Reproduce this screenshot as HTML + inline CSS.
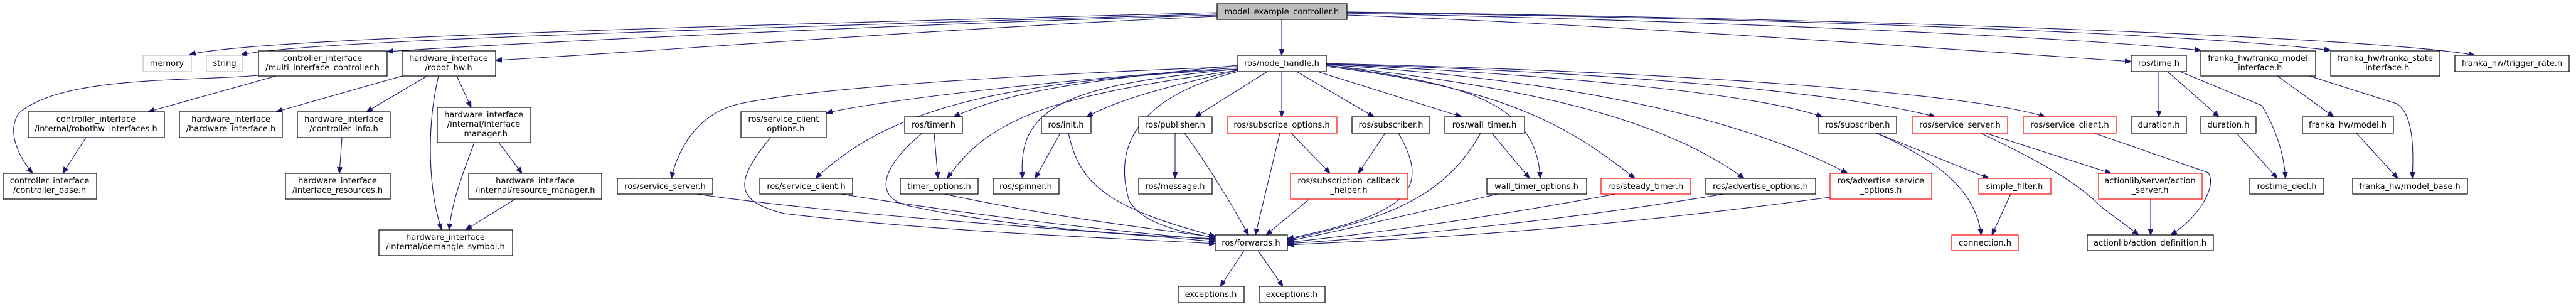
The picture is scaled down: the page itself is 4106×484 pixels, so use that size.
<!DOCTYPE html>
<html><head><meta charset="utf-8"><style>
html,body{margin:0;padding:0;background:#fff;}
svg{display:block;}
text{font-family:"DejaVu Sans","Liberation Sans",sans-serif;font-size:13px;fill:#000;text-anchor:middle;}
.n{fill:#fff;stroke:#000;stroke-width:1.2;}
.r{fill:#fff;stroke:#ff0000;stroke-width:1.2;}
.g{fill:#fff;stroke:#bfbfbf;stroke-width:1.2;}
.e{fill:none;stroke:#191970;stroke-width:1.1;}
</style></head><body>
<svg width="4106" height="484" viewBox="0 0 4106 484" xmlns="http://www.w3.org/2000/svg">
<defs><marker id="a" markerUnits="userSpaceOnUse" markerWidth="11" markerHeight="9" refX="10" refY="4" orient="auto"><path d="M0,0 L10,4 L0,8 z" fill="#191970" stroke="#191970"/></marker></defs>
<g class="e" marker-end="url(#a)">
<path d="M1940,20 C1200,40 400,60 302,87"/>
<path d="M1940,22 C1200,45 450,65 384,88"/>
<path d="M1940,24 C1400,40 800,70 617,82"/>
<path d="M1940,26 C1500,45 1000,85 790,96"/>
<path d="M2043,31 L2043,88"/>
<path d="M2147,24 C2600,40 3200,85 3397,98"/>
<path d="M2147,21 C2800,35 3300,60 3508,80"/>
<path d="M2147,20 C2900,30 3500,55 3715,80"/>
<path d="M2147,19 C3000,30 3800,60 3945,88"/>
<path d="M412,120 C300,130 100,120 30,180 C10,210 30,250 52,276"/>
<path d="M440,121 L236,178"/>
<path d="M641,121 L440,178"/>
<path d="M681,121 L584,178"/>
<path d="M728,121 L751,171"/>
<path d="M699,121 C680,200 682,300 704,366"/>
<path d="M756,227 C740,270 720,320 716,366"/>
<path d="M795,227 L832,276"/>
<path d="M821,317 L742,366"/>
<path d="M137,219 L100,276"/>
<path d="M545,219 L541,276"/>
<path d="M1973,106 C1600,120 1300,140 1180,165 C1110,180 1080,240 1070,284"/>
<path d="M1973,108 C1700,125 1400,160 1317,180"/>
<path d="M1973,110 C1600,130 1420,170 1300,284"/>
<path d="M1973,104 C1700,130 1600,150 1520,186"/>
<path d="M1973,112 C1700,150 1580,180 1510,284"/>
<path d="M1973,110 C1700,135 1620,170 1630,284"/>
<path d="M1973,112 C1850,140 1780,160 1732,186"/>
<path d="M2020,114 L1905,186"/>
<path d="M2043,114 L2043,186"/>
<path d="M1973,114 C1830,150 1770,220 1800,320 C1820,355 1880,370 1937,378"/>
<path d="M2067,114 L2190,186"/>
<path d="M2100,114 L2330,186"/>
<path d="M2114,104 C2300,130 2450,150 2455,284"/>
<path d="M2114,106 C2400,140 2500,200 2606,284"/>
<path d="M2114,104 C2450,140 2650,190 2780,284"/>
<path d="M2114,103 C2550,130 2800,200 2945,276"/>
<path d="M2114,102 C2500,120 2800,150 2905,186"/>
<path d="M2114,102 C2600,115 2950,150 3085,186"/>
<path d="M2114,101 C2700,115 3150,150 3260,186"/>
<path d="M1110,309 C1400,350 1800,370 1937,385"/>
<path d="M1228,219 C1170,290 1170,320 1250,340 C1500,370 1800,380 1937,388"/>
<path d="M1340,309 C1600,350 1800,370 1937,382"/>
<path d="M1470,212 C1400,270 1390,320 1460,330 C1600,360 1800,375 1937,380"/>
<path d="M1505,309 C1700,350 1850,365 1937,378"/>
<path d="M1703,212 C1720,290 1760,330 1937,376"/>
<path d="M1888,212 C1930,270 1960,320 1990,374"/>
<path d="M2040,212 L2001,374"/>
<path d="M2087,317 L2018,374"/>
<path d="M2229,212 C2280,300 2250,340 2052,380"/>
<path d="M2360,212 C2300,320 2200,350 2052,382"/>
<path d="M2387,309 C2250,340 2150,365 2052,384"/>
<path d="M2575,309 C2350,350 2200,370 2052,386"/>
<path d="M2748,309 C2500,350 2250,375 2052,388"/>
<path d="M2917,314 C2500,370 2250,380 2052,390"/>
<path d="M1489,212 L1495,284"/>
<path d="M1690,212 L1650,284"/>
<path d="M1873,212 L1873,284"/>
<path d="M2058,212 L2120,276"/>
<path d="M2208,212 L2165,276"/>
<path d="M2378,212 L2438,284"/>
<path d="M1983,399 L1945,456"/>
<path d="M2005,399 L2045,456"/>
<path d="M2991,212 L3170,284"/>
<path d="M2991,212 C3100,260 3150,310 3158,374"/>
<path d="M3205,309 L3175,374"/>
<path d="M3165,212 L3365,276"/>
<path d="M3157,212 C3280,270 3320,300 3350,330 L3409,374"/>
<path d="M3338,212 L3520,275 C3535,300 3500,350 3460,374"/>
<path d="M3428,317 L3428,374"/>
<path d="M3441,114 L3441,186"/>
<path d="M3455,114 L3537,186"/>
<path d="M3475,114 L3605,168 C3625,200 3640,240 3643,284"/>
<path d="M3565,212 L3630,284"/>
<path d="M3630,121 L3720,186"/>
<path d="M3681,121 L3820,165 C3845,180 3848,230 3845,284"/>
<path d="M3756,212 L3822,284"/>
</g>
<!-- nodes -->
<rect x="1940" y="6" width="207" height="25" fill="#bfbfbf" stroke="#000" stroke-width="1.2"/><text x="2043" y="23">model_example_controller.h</text>
<rect class="g" x="228" y="88" width="77" height="26"/><text x="266" y="105">memory</text>
<rect class="g" x="329" y="88" width="58" height="26"/><text x="358" y="105">string</text>
<rect class="n" x="412" y="81" width="205" height="40"/><text x="514" y="97">controller_interface</text><text x="514" y="112">/multi_interface_controller.h</text>
<rect class="n" x="641" y="81" width="149" height="40"/><text x="715" y="97">hardware_interface</text><text x="715" y="112">/robot_hw.h</text>
<rect class="n" x="45" y="178" width="217" height="41"/><text x="153" y="194">controller_interface</text><text x="153" y="209">/internal/robothw_interfaces.h</text>
<rect class="n" x="286" y="178" width="164" height="41"/><text x="368" y="194">hardware_interface</text><text x="368" y="209">/hardware_interface.h</text>
<rect class="n" x="474" y="178" width="148" height="41"/><text x="548" y="194">hardware_interface</text><text x="548" y="209">/controller_info.h</text>
<rect class="n" x="5" y="276" width="149" height="41"/><text x="79" y="292">controller_interface</text><text x="79" y="307">/controller_base.h</text>
<rect class="n" x="455" y="276" width="167" height="41"/><text x="538" y="292">hardware_interface</text><text x="538" y="307">/interface_resources.h</text>
<rect class="n" x="604" y="366" width="213" height="41"/><text x="710" y="382">hardware_interface</text><text x="710" y="397">/internal/demangle_symbol.h</text>
<rect class="n" x="697" y="171" width="149" height="56"/><text x="771" y="187">hardware_interface</text><text x="771" y="202">/internal/interface</text><text x="771" y="217">_manager.h</text>
<rect class="n" x="747" y="276" width="212" height="41"/><text x="853" y="292">hardware_interface</text><text x="853" y="307">/internal/resource_manager.h</text>
<rect class="n" x="984" y="284" width="152" height="25"/><text x="1060" y="301">ros/service_server.h</text>
<rect class="n" x="1181" y="178" width="136" height="41"/><text x="1249" y="194">ros/service_client</text><text x="1249" y="209">_options.h</text>
<rect class="n" x="1211" y="284" width="148" height="25"/><text x="1285" y="301">ros/service_client.h</text>
<rect class="n" x="1973" y="88" width="141" height="26"/><text x="2043" y="105">ros/node_handle.h</text>
<rect class="n" x="1442" y="186" width="92" height="26"/><text x="1488" y="203">ros/timer.h</text>
<rect class="n" x="1435" y="284" width="124" height="25"/><text x="1497" y="301">timer_options.h</text>
<rect class="n" x="1660" y="186" width="79" height="26"/><text x="1699" y="203">ros/init.h</text>
<rect class="n" x="1583" y="284" width="105" height="25"/><text x="1635" y="301">ros/spinner.h</text>
<rect class="n" x="1815" y="186" width="117" height="26"/><text x="1873" y="203">ros/publisher.h</text>
<rect class="n" x="1815" y="284" width="117" height="25"/><text x="1873" y="301">ros/message.h</text>
<rect class="r" x="1956" y="186" width="175" height="26"/><text x="2043" y="203">ros/subscribe_options.h</text>
<rect class="r" x="2057" y="276" width="187" height="41"/><text x="2150" y="292">ros/subscription_callback</text><text x="2150" y="307">_helper.h</text>
<rect class="n" x="1937" y="374" width="115" height="25"/><text x="1994" y="391">ros/forwards.h</text>
<rect class="n" x="1878" y="456" width="105" height="26"/><text x="1930" y="473">exceptions.h</text>
<rect class="n" x="2007" y="456" width="105" height="26"/><text x="2059" y="473">exceptions.h</text>
<rect class="n" x="2155" y="186" width="124" height="26"/><text x="2217" y="203">ros/subscriber.h</text>
<rect class="n" x="2303" y="186" width="127" height="26"/><text x="2366" y="203">ros/wall_timer.h</text>
<rect class="n" x="2370" y="284" width="159" height="25"/><text x="2449" y="301">wall_timer_options.h</text>
<rect class="r" x="2552" y="284" width="143" height="25"/><text x="2623" y="301">ros/steady_timer.h</text>
<rect class="n" x="2719" y="284" width="175" height="25"/><text x="2806" y="301">ros/advertise_options.h</text>
<rect class="r" x="2917" y="276" width="162" height="41"/><text x="2998" y="292">ros/advertise_service</text><text x="2998" y="307">_options.h</text>
<rect class="n" x="2899" y="186" width="124" height="26"/><text x="2961" y="203">ros/subscriber.h</text>
<rect class="r" x="3048" y="186" width="152" height="26"/><text x="3124" y="203">ros/service_server.h</text>
<rect class="r" x="3225" y="186" width="148" height="26"/><text x="3299" y="203">ros/service_client.h</text>
<rect class="n" x="3397" y="186" width="88" height="26"/><text x="3441" y="203">duration.h</text>
<rect class="n" x="3397" y="88" width="88" height="26"/><text x="3441" y="105">ros/time.h</text>
<rect class="r" x="3154" y="284" width="115" height="25"/><text x="3211" y="301">simple_filter.h</text>
<rect class="r" x="3111" y="374" width="106" height="25"/><text x="3164" y="391">connection.h</text>
<rect class="r" x="3345" y="276" width="165" height="41"/><text x="3427" y="292">actionlib/server/action</text><text x="3427" y="307">_server.h</text>
<rect class="n" x="3327" y="374" width="201" height="25"/><text x="3427" y="391">actionlib/action_definition.h</text>
<rect class="n" x="3508" y="81" width="183" height="40"/><text x="3599" y="97">franka_hw/franka_model</text><text x="3599" y="112">_interface.h</text>
<rect class="n" x="3715" y="81" width="174" height="40"/><text x="3802" y="97">franka_hw/franka_state</text><text x="3802" y="112">_interface.h</text>
<rect class="n" x="3913" y="88" width="182" height="26"/><text x="4004" y="105">franka_hw/trigger_rate.h</text>
<rect class="n" x="3508" y="186" width="88" height="26"/><text x="3552" y="203">duration.h</text>
<rect class="n" x="3670" y="186" width="145" height="26"/><text x="3742" y="203">franka_hw/model.h</text>
<rect class="n" x="3586" y="284" width="118" height="25"/><text x="3645" y="301">rostime_decl.h</text>
<rect class="n" x="3750" y="284" width="183" height="25"/><text x="3841" y="301">franka_hw/model_base.h</text>
</svg>
</body></html>
